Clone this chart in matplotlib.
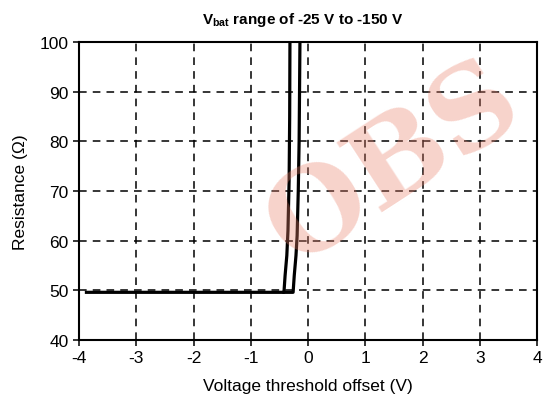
import matplotlib
matplotlib.use("Agg")
import matplotlib.pyplot as plt

plt.rcParams['font.family'] = ['Liberation Sans', 'DejaVu Sans']
plt.rcParams['mathtext.fontset'] = 'custom'
plt.rcParams['mathtext.rm'] = 'Liberation Sans'
plt.rcParams['mathtext.bf'] = 'Liberation Sans:bold'
plt.rcParams['axes.unicode_minus'] = False

# curve data
curve1_x = [-3.87, -0.42, -0.40, -0.37, -0.35, -0.33, -0.32, -0.315]
curve1_y = [49.6, 49.6, 53, 57, 62, 72, 85, 101]
curve2_x = [-0.42, -0.26, -0.24, -0.21, -0.19, -0.17, -0.155, -0.14]
curve2_y = [49.6, 49.6, 53, 57, 61, 70, 80, 101]

fig = plt.figure(figsize=(5.46, 4.10), dpi=100)
ax = fig.add_axes([79/546, 1-341/410, 458/546, 298/410])

ax.plot(curve1_x, curve1_y, color='black', lw=2.3)
ax.plot(curve2_x, curve2_y, color='black', lw=2.3)

ax.set_xlim(-4, 4)
ax.set_ylim(40, 100)
ax.set_xticks(range(-4, 5))
ax.set_yticks(range(40, 101, 10))
ax.grid(True, color='black', linestyle=(0, (5, 4)), lw=1.1)
for s in ax.spines.values():
    s.set_linewidth(1.5)
ax.tick_params(labelsize=12.5, length=4, width=1.1, direction='out')

ax.set_xlabel("Voltage threshold offset (V)", fontsize=12.5, labelpad=9)
ax.set_ylabel("Resistance (\u03a9)", fontsize=12.5, labelpad=8)
fig.text(0.555, 0.952, r"$\mathbf{V_{bat}}$ range of -25 V to -150 V",
         ha='center', va='center', fontsize=11, fontweight='bold')

# watermark
fig.text(0.72, 0.6, "OBS", fontsize=82, fontweight='bold', family='DejaVu Serif',
         color='#ea806a', alpha=0.35, rotation=33, ha='center', va='center')

fig.savefig("out.png", dpi=100)
